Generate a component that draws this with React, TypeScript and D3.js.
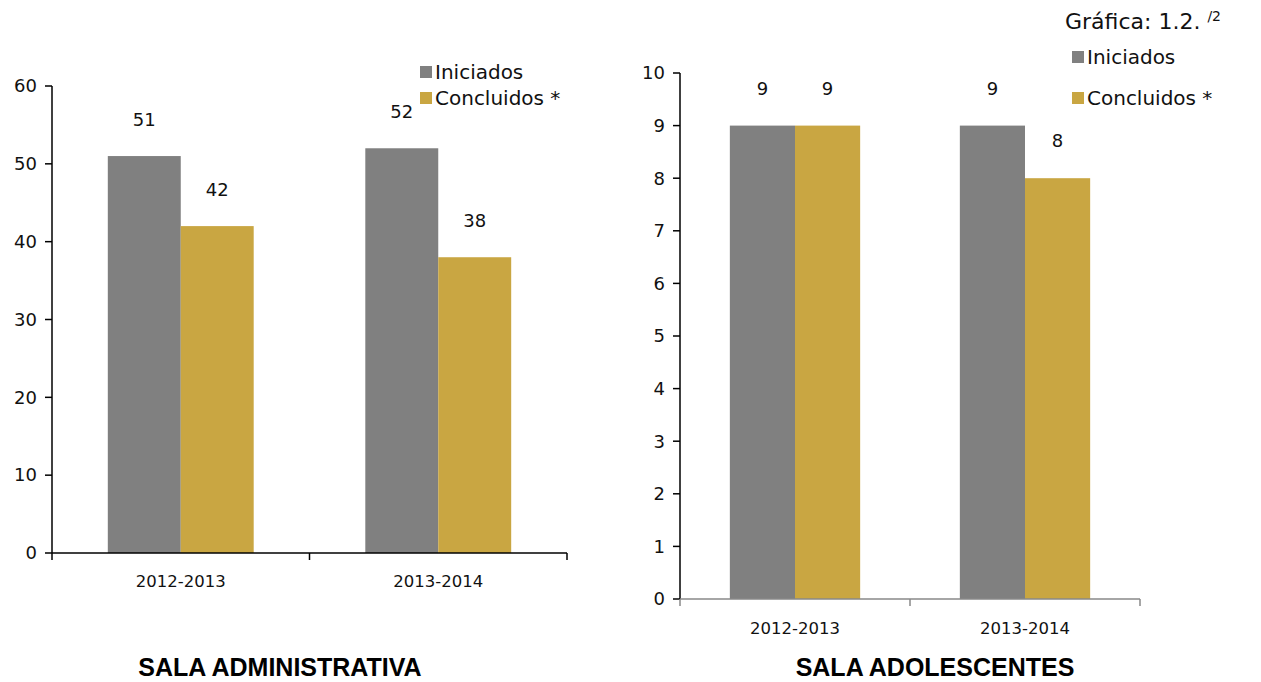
import React from "react";
import * as d3 from "d3";

const categories = ["2012-2013", "2013-2014"];
const seriesNames = ["Iniciados", "Concluidos *"];
const adminIniciados = [51, 52];
const adminConcluidos = [42, 38];
const adolIniciados = [9, 9];
const adolConcluidos = [9, 8];
const adminTicks = [0, 10, 20, 30, 40, 50, 60];
const adolTicks = [0, 1, 2, 3, 4, 5, 6, 7, 8, 9, 10];
const colors = ["#808080", "#C9A642"];
const FONT = "'Century Gothic', 'DejaVu Sans', sans-serif";

type PanelProps = {
  x0: number; x1: number; yTop: number; yBottom: number; max: number;
  ticks: number[]; values: number[][]; labelOffset: number; xAxisColor: string;
  catLabelY: number;
};

function Panel(p: PanelProps) {
  const y = d3.scaleLinear().domain([0, p.max]).range([p.yBottom, p.yTop]);
  const x = d3.scaleBand<string>().domain(categories).range([p.x0, p.x1]).paddingInner(0).paddingOuter(0);
  const inner = d3.scaleBand<string>().domain(seriesNames).range([0, x.bandwidth()]).paddingInner(0).paddingOuter(0.765);
  const bounds = [p.x0, ...categories.map((c) => (x(c) as number) + x.bandwidth())];
  return (
    <g>
      {categories.map((c, ci) =>
        seriesNames.map((s, si) => {
          const v = p.values[si][ci];
          const bx = (x(c) as number) + (inner(s) as number);
          return (
            <g key={c + s}>
              <rect x={bx} y={y(v)} width={inner.bandwidth()} height={p.yBottom - y(v)} fill={colors[si]} />
              <text x={bx + inner.bandwidth() / 2} y={y(v) - p.labelOffset} textAnchor="middle" fontSize={18} fontFamily={FONT} fill="#111">{v}</text>
            </g>
          );
        })
      )}
      <line x1={p.x0} x2={p.x0} y1={p.yTop} y2={p.yBottom} stroke="#000" strokeWidth={1.5} />
      {p.ticks.map((t) => (
        <g key={t}>
          <line x1={p.x0 - 7} x2={p.x0} y1={y(t)} y2={y(t)} stroke="#000" strokeWidth={1.5} />
          <text x={p.x0 - 15} y={y(t)} dy="0.35em" textAnchor="end" fontSize={18} fontFamily={FONT} fill="#111">{t}</text>
        </g>
      ))}
      <line x1={p.x0} x2={p.x1} y1={p.yBottom} y2={p.yBottom} stroke={p.xAxisColor} strokeWidth={1.5} />
      {bounds.map((b, i) => (
        <line key={i} x1={b} x2={b} y1={p.yBottom} y2={p.yBottom + 7} stroke={p.xAxisColor} strokeWidth={1.5} />
      ))}
      {categories.map((c) => (
        <text key={c} x={(x(c) as number) + x.bandwidth() / 2} y={p.catLabelY} textAnchor="middle" fontSize={16.5} fontFamily={FONT} fill="#111">{c}</text>
      ))}
    </g>
  );
}

function Legend({ x, ys }: { x: number; ys: number[] }) {
  return (
    <g>
      {seriesNames.map((s, i) => (
        <g key={s}>
          <rect x={x} y={ys[i] - 6} width={12} height={12} fill={colors[i]} />
          <text x={x + 15} y={ys[i]} dy="0.35em" fontSize={20} fontFamily={FONT} fill="#111">{s}</text>
        </g>
      ))}
    </g>
  );
}

export default function App() {
  return (
    <svg width={1261} height={682} style={{ position: "absolute", left: 0, top: 0, background: "#fff" }}>
      <Panel x0={52} x1={567} yTop={86} yBottom={553} max={60} ticks={adminTicks}
        values={[adminIniciados, adminConcluidos]} labelOffset={30} xAxisColor="#000" catLabelY={587} />
      <Panel x0={680} x1={1140} yTop={73} yBottom={599} max={10} ticks={adolTicks}
        values={[adolIniciados, adolConcluidos]} labelOffset={31} xAxisColor="#888" catLabelY={634} />
      <Legend x={420} ys={[72, 98]} />
      <Legend x={1072} ys={[57, 98]} />
      <text x={1065} y={29} fontSize={22} fontFamily={FONT} fill="#111">Gráfica: 1.2. <tspan fontSize={14} dy={-8}>/2</tspan></text>
      <text x={280} y={676} textAnchor="middle" fontSize={25} fontWeight="bold" fontFamily="'Liberation Sans', Arial, sans-serif" fill="#000">SALA ADMINISTRATIVA</text>
      <text x={935} y={676} textAnchor="middle" fontSize={25} fontWeight="bold" fontFamily="'Liberation Sans', Arial, sans-serif" fill="#000">SALA ADOLESCENTES</text>
    </svg>
  );
}
